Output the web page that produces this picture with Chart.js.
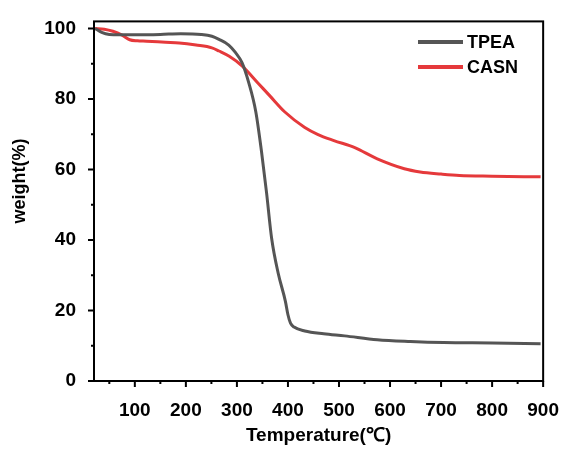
<!DOCTYPE html>
<html>
<head>
<meta charset="utf-8">
<script src="https://cdn.jsdelivr.net/npm/chart.js@4"></script>
<style>
  html, body { margin: 0; padding: 0; background: #fff; }
  #wrap { width: 569px; height: 451px; }
</style>
</head>
<body>
<div id="wrap"><canvas id="myChart" width="569" height="451"></canvas></div>
<script>
// temperature (°C) and weight (%)
let tpeaTemp = [22, 35, 50, 70, 100, 150, 190, 230, 251, 265, 284, 297, 310, 323, 337, 348, 358, 368, 381, 395, 400, 405, 412, 433, 470, 511, 575, 640, 705, 800, 895];
let tpeaWeight = [100, 98.9, 98.3, 98.2, 98.2, 98.3, 98.5, 98.3, 97.8, 96.9, 95.3, 93.2, 90.3, 84.7, 76.4, 65.3, 53.5, 40.5, 30.5, 22.6, 18.8, 16.4, 15.3, 14.2, 13.4, 12.8, 11.7, 11.2, 10.9, 10.8, 10.6];

let casnTemp = [22, 40, 57, 75, 90, 105, 123, 160, 187, 220, 251, 265, 285, 310, 342, 365, 394, 433, 459, 490, 531, 575, 628, 659, 700, 736, 800, 895];
let casnWeight = [100, 99.8, 99.2, 98.1, 96.8, 96.5, 96.4, 96.1, 95.9, 95.3, 94.5, 93.6, 92.1, 89.4, 84.4, 80.8, 76.3, 71.9, 69.9, 68.2, 66.2, 63, 60.2, 59.3, 58.7, 58.3, 58.1, 57.9];

let xTicks = [100, 200, 300, 400, 500, 600, 700, 800, 900];
let yTicks = [0, 20, 40, 60, 80, 100];

const toPoints = (xs, ys) => xs.map((x, i) => ({ x: x, y: ys[i] }));

const fontFamily = '"Liberation Sans", Arial, sans-serif';

// box, outward major/minor ticks, y title and the inside legend
const framePlugin = {
    id: 'frame',
    afterDraw(chart) {
        const c = chart.ctx;
        const a = chart.chartArea;
        const xs = chart.scales.x;
        const ys = chart.scales.y;
        c.save();
        c.strokeStyle = '#000';
        c.lineWidth = 2;
        c.strokeRect(a.left, a.top, a.right - a.left, a.bottom - a.top);

        c.beginPath();
        for (let v = 50; v <= 900; v += 50) {
            const px = xs.getPixelForValue(v);
            const len = v % 100 === 0 ? 6 : 3;
            c.moveTo(px, a.bottom);
            c.lineTo(px, a.bottom + len);
        }
        for (let v = 0; v <= 100; v += 10) {
            const py = ys.getPixelForValue(v);
            const len = v % 20 === 0 ? 6 : 3;
            c.moveTo(a.left, py);
            c.lineTo(a.left - len, py);
        }
        c.stroke();

        // y axis title
        c.fillStyle = '#000';
        c.font = 'bold 18px ' + fontFamily;
        c.textAlign = 'center';
        c.textBaseline = 'middle';
        c.save();
        c.translate(20, 181);
        c.rotate(-Math.PI / 2);
        c.fillText('weight(%)', 0, 0);
        c.restore();

        // legend
        c.textAlign = 'left';
        chart.data.datasets.forEach((ds, i) => {
            const y = 42 + i * 25;
            c.strokeStyle = ds.borderColor;
            c.lineWidth = 4;
            c.beginPath();
            c.moveTo(418, y);
            c.lineTo(463, y);
            c.stroke();
            c.fillStyle = '#000';
            c.fillText(ds.label, 467, y + 1);
        });
        c.restore();
    }
};

const ctx = document.getElementById('myChart').getContext('2d');
const myChart = new Chart(ctx, {
    type: 'line',
    data: {
        datasets: [{
            label: 'TPEA',
            data: toPoints(tpeaTemp, tpeaWeight),
            borderColor: '#555555',
            borderWidth: 3,
            pointRadius: 0,
            cubicInterpolationMode: 'monotone',
            fill: false
        }, {
            label: 'CASN',
            data: toPoints(casnTemp, casnWeight),
            borderColor: '#e5393b',
            borderWidth: 3,
            pointRadius: 0,
            cubicInterpolationMode: 'monotone',
            fill: false
        }]
    },
    options: {
        responsive: false,
        animation: false,
        layout: { padding: { top: 15, right: 21, left: 0, bottom: 0 } },
        plugins: {
            legend: { display: false },
            tooltip: { enabled: false }
        },
        scales: {
            x: {
                type: 'linear',
                min: 20,
                max: 900,
                grid: { display: false },
                border: { display: false },
                afterBuildTicks: (scale) => { scale.ticks = xTicks.map(v => ({ value: v })); },
                afterFit: (scale) => { scale.height = 70; },
                ticks: {
                    color: '#000',
                    padding: 10,
                    maxRotation: 0,
                    font: { family: fontFamily, size: 19, weight: 'bold' }
                },
                title: {
                    display: true,
                    text: 'Temperature(℃)',
                    color: '#000',
                    padding: { top: 5 },
                    font: { family: fontFamily, size: 19, weight: 'bold' }
                }
            },
            y: {
                min: 0,
                max: 102,
                grid: { display: false },
                border: { display: false },
                afterBuildTicks: (scale) => { scale.ticks = yTicks.map(v => ({ value: v })); },
                afterFit: (scale) => { scale.width = 94; },
                ticks: {
                    color: '#000',
                    padding: 10,
                    font: { family: fontFamily, size: 19, weight: 'bold' }
                },
                title: { display: false }
            }
        }
    },
    plugins: [framePlugin]
});
</script>
</body>
</html>
